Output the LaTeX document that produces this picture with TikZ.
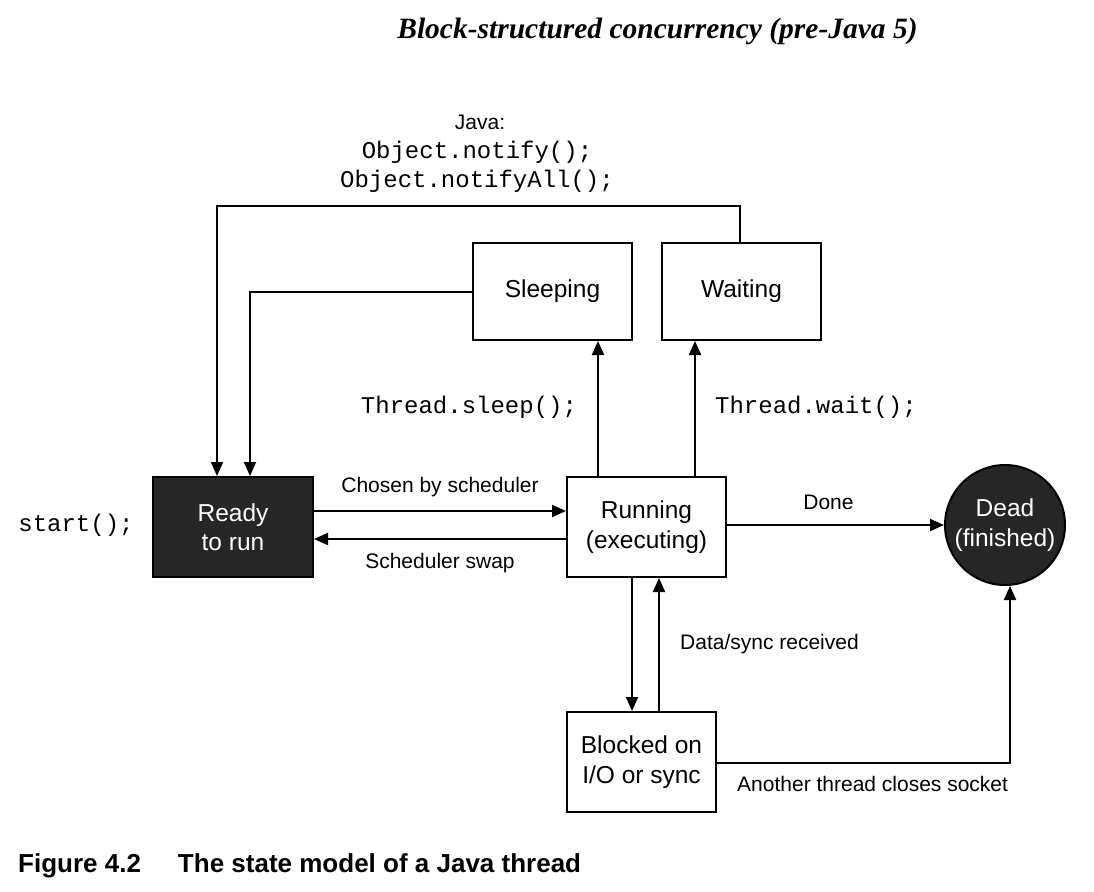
\documentclass[tikz,border=0pt]{standalone}
\usepackage{fontspec}
\setmainfont{Liberation Serif}
\setsansfont{Liberation Sans}
\setmonofont{Liberation Mono}
\usetikzlibrary{arrows.meta}
\definecolor{darkfill}{HTML}{262626}
\tikzset{
  stbox/.style={draw=black, line width=2pt, minimum width=#1, minimum height=100pt, inner sep=0pt, align=center, font=\sffamily\fontsize{24.5}{29.5}\selectfont},
  darkbox/.style={fill=darkfill, text=white},
  conn/.style={line width=2pt, -{Triangle[length=14pt,width=12pt]}},
  lbl/.style={font=\sffamily\fontsize{21}{25}\selectfont, inner sep=0pt},
  code/.style={font=\ttfamily\fontsize{24}{29}\selectfont, inner sep=0pt},
}
\begin{document}
\begin{tikzpicture}[x=1pt,y=-1pt]
\useasboundingbox (0,0) rectangle (1094,891);
% title
\node[font=\rmfamily\bfseries\itshape\fontsize{29.5}{33}\selectfont, inner sep=0pt] (title) at (657.5,31) {Block-structured concurrency (pre-Java 5)};
% states
\node[stbox=159pt, minimum height=97pt] (sleep) at (552.5,291.5) {Sleeping};
\node[stbox=159pt, minimum height=97pt] (wait) at (741.5,291.5) {Waiting};
\node[stbox=160pt, darkbox] (ready) at (233,527) {Ready\\to run};
\node[stbox=159pt] (run) at (646.5,527) {Running\\(executing)};
\node[stbox=149pt] (block) at (641.5,762) {Blocked on\\I/O or sync};
\node[circle, draw=black, line width=2pt, fill=darkfill, text=white, minimum size=120pt, inner sep=0pt, align=center, font=\sffamily\fontsize{24.5}{29.5}\selectfont] (dead) at (1005,525) {Dead\\(finished)};
% texts
\node[lbl] (java) at (480,122) {Java:};
\node[code] (notify) at (477,152) {Object.notify();};
\node[code] (notifyall) at (477,181) {Object.notifyAll();};
\node[code] (start) at (76,525) {start();};
\node[code] (tsleep) at (469,407) {Thread.sleep();};
\node[code] (twait) at (816,407) {Thread.wait();};
% coordinates for routed connectors
\coordinate (c1) at (740,206);
\coordinate (c2) at (217,206);
\coordinate (c3) at (250,292);
% waiting -> ready
\draw[conn] (wait.north -| c1) |- (c2) -- (c2 |- ready.north);
% sleeping -> ready
\draw[conn] (sleep.west |- c3) -- (c3) -- (c3 |- ready.north);
% running -> sleeping / waiting
\draw[conn] (run.north -| 598,0) -- (sleep.south -| 598,0);
\draw[conn] (run.north -| 695,0) -- (wait.south -| 695,0);
% ready <-> running
\draw[conn] (ready.east |- 0,511) -- node[lbl, above=13pt] {Chosen by scheduler} (run.west |- 0,511);
\draw[conn] (run.west |- 0,539) -- node[lbl, below=13pt] {Scheduler swap} (ready.east |- 0,539);
% running -> dead
\draw[conn] (run.east |- dead.west) -- node[lbl, above=14pt, xshift=-7pt] {Done} (dead.west);
% running <-> blocked
\draw[conn] (run.south -| 632,0) -- (block.north -| 632,0);
\draw[conn] (block.north -| 659,0) -- (run.south -| 659,0);
\node[lbl, anchor=west] (datasync) at (680,644) {Data/sync received};
% blocked -> dead
\coordinate (c4) at (1010,763);
\draw[conn] (block.east |- c4) -- (c4) -- (dead.south -| c4);
\node[lbl, anchor=west] (another) at (737,784) {Another thread closes socket};
% caption
\node[font=\sffamily\bfseries\fontsize{26}{30}\selectfont, inner sep=0pt, anchor=west] (caption) at (18,866) {Figure 4.2\hspace{37pt}The state model of a Java thread};
\end{tikzpicture}
\end{document}
